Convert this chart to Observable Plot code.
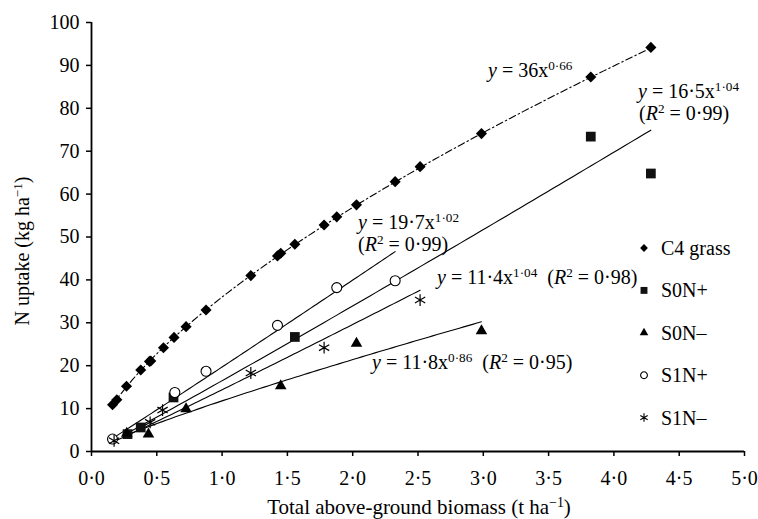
<!DOCTYPE html>
<html><head><meta charset="utf-8">
<script src="https://cdn.jsdelivr.net/npm/d3@7"></script>
<script src="https://cdn.jsdelivr.net/npm/@observablehq/plot@0.6"></script>
<style>body{margin:0;background:#fff}</style>
</head><body><div id="chart"></div>
<script>
// ---- data ----
const seriesNames = ["C4 grass", "S0N+", "S0N–", "S1N+", "S1N–"];

const grassX = [0.161, 0.194, 0.268, 0.377, 0.444, 0.454, 0.551, 0.632, 0.724, 0.877, 1.22, 1.424, 1.449, 1.557, 1.781, 1.878, 2.029, 2.325, 2.516, 2.986, 3.823, 4.283];
const grassY = [10.9, 12.05, 15.2, 19.0, 21.0, 21.1, 24.2, 26.6, 29.1, 33.0, 41.0, 45.6, 46.2, 48.3, 52.8, 54.7, 57.5, 62.9, 66.4, 74.1, 87.3, 94.2];

const s0nPlusX = [0.276, 0.377, 0.628, 1.557, 3.823, 4.283];
const s0nPlusY = [4.05, 5.6, 12.6, 26.7, 73.4, 64.8];

const s0nMinusX = [0.27, 0.436, 0.724, 1.449, 2.029, 2.986];
const s0nMinusY = [4.2, 4.05, 9.9, 15.3, 25.2, 28.1];

const s1nPlusX = [0.161, 0.638, 0.877, 1.424, 1.878, 2.325];
const s1nPlusY = [2.9, 13.75, 18.7, 29.4, 38.2, 39.8];

const s1nMinusX = [0.173, 0.449, 0.544, 1.22, 1.781, 2.516];
const s1nMinusY = [2.5, 6.8, 9.65, 18.3, 24.2, 35.3];

// fitted power curves y = a·x^b as drawn (order follows seriesNames)
const fitA = [36, 16.5, 11.8, 19.7, 14.4];
const fitB = [0.66, 1.04, 0.86, 1.02, 1.04];

const xTicks = [0, 0.5, 1, 1.5, 2, 2.5, 3, 3.5, 4, 4.5, 5];
const yTicks = [0, 10, 20, 30, 40, 50, 60, 70, 80, 90, 100];

// ---- build tables ----
const xs = [grassX, s0nPlusX, s0nMinusX, s1nPlusX, s1nMinusX];
const ys = [grassY, s0nPlusY, s0nMinusY, s1nPlusY, s1nMinusY];
const pts = xs.map((X, i) => X.map((x, j) => ({x, y: ys[i][j], s: i})));

const curves = [];
xs.forEach((X, i) => {
  const [x0, x1] = d3.extent(X);
  const n = 80;
  for (let k = 0; k <= n; k++) {
    const x = x0 + (x1 - x0) * k / n;
    curves.push({x, y: fitA[i] * Math.pow(x, fitB[i]), s: i});
  }
});

const FONT = "Liberation Serif, Times New Roman, serif";

const chart = Plot.plot({
  width: 758, height: 519,
  marginLeft: 91, marginRight: 14, marginTop: 22, marginBottom: 68,
  x: {domain: [0, 5]},
  y: {domain: [0, 100]},
  style: {fontFamily: FONT, fontSize: "20px", color: "#000", background: "#fff"},
  marks: [
    Plot.line(curves.filter(d => d.s === 0), {x: "x", y: "y", stroke: "#000", strokeWidth: 1.1, strokeDasharray: "7,3,1.5,3"}),
    Plot.line(curves.filter(d => d.s !== 0), {x: "x", y: "y", z: "s", stroke: "#000", strokeWidth: 1.1}),
    Plot.dot(pts[0], {x: "x", y: "y", symbol: "diamond2", fill: "#000", stroke: "none", r: 5}),
    Plot.dot(pts[1], {x: "x", y: "y", symbol: "square", fill: "#111", r: 5.5}),
    Plot.dot(pts[2], {x: "x", y: "y", symbol: "triangle", fill: "#000", r: 4.3}),
    Plot.dot(pts[3], {x: "x", y: "y", symbol: "circle", fill: "#fff", stroke: "#000", strokeWidth: 1.1, r: 5}),
    Plot.dot(pts[4], {x: "x", y: "y", symbol: "asterisk", stroke: "#000", strokeWidth: 1.2, r: 5.6}),
    Plot.axisX({ticks: xTicks, tickFormat: d => d.toFixed(1).replace(".", "·"), tickSize: 5, tickPadding: 14, label: null, strokeWidth: 1.5}),
    Plot.axisY({ticks: yTicks, tickSize: 5, tickPadding: 7, label: null, strokeWidth: 1.5}),
    Plot.ruleY([0], {strokeWidth: 1.8}),
    Plot.ruleX([0], {strokeWidth: 1.8})
  ]
});
document.getElementById("chart").appendChild(chart);

const svg = d3.select(chart);

function richText(g, x, y, parts, size, anchor = "start") {
  const t = g.append("text").attr("x", x).attr("y", y)
    .attr("text-anchor", anchor)
    .attr("font-family", FONT).attr("font-size", size).attr("fill", "#000")
    .style("white-space", "pre");
  let raised = false;
  parts.forEach(([s, st]) => {
    const ts = t.append("tspan").text(s);
    if (st === "i") ts.attr("font-style", "italic");
    if (st === "s") {
      ts.attr("font-size", size * 0.66).attr("dy", raised ? 0 : -7);
      raised = true;
    } else if (raised) {
      ts.attr("dy", 7);
      raised = false;
    }
  });
  return t;
}

// equation annotations (pixel layout)
const eqs = [
  {x: 488, y: 77, p: [["y","i"],[" = 36x",""],["0·66","s"]]},
  {x: 638, y: 98, p: [["y","i"],[" = 16·5x",""],["1·04","s"]]},
  {x: 639, y: 120, p: [["(",""],["R","i"],["2","s"],[" = 0·99)",""]]},
  {x: 358, y: 229, p: [["y","i"],[" = 19·7x",""],["1·02","s"]]},
  {x: 358, y: 250.5, p: [["(",""],["R","i"],["2","s"],[" = 0·99)",""]]},
  {x: 437, y: 284, p: [["y","i"],[" = 11·4x",""],["1·04","s"],["  (",""],["R","i"],["2","s"],[" = 0·98)",""]]},
  {x: 372, y: 369, p: [["y","i"],[" = 11·8x",""],["0·86","s"],["  (",""],["R","i"],["2","s"],[" = 0·95)",""]]}
];
const ga = svg.append("g");
eqs.forEach(e => richText(ga, e.x, e.y, e.p, 20));

// axis titles
richText(svg, 419, 514, [["Total above-ground biomass (t ha",""],["−1","s"],[")",""]], 21, "middle");
richText(svg.append("g").attr("transform", "translate(29,251) rotate(-90)"), 0, 0,
  [["N uptake (kg ha",""],["−1","s"],[")",""]], 20, "middle");

// legend
const legSym = [
  {t: d3.symbolDiamond2, fill: "#000", stroke: "none", r: 3.5},
  {t: d3.symbolSquare, fill: "#111", stroke: "none", r: 3.9},
  {t: d3.symbolTriangle, fill: "#000", stroke: "none", r: 3.2},
  {t: d3.symbolCircle, fill: "#fff", stroke: "#000", r: 3.4},
  {t: d3.symbolAsterisk, fill: "none", stroke: "#000", r: 4.0}
];
const gl = svg.append("g");
seriesNames.forEach((name, i) => {
  const cy = 248 + i * 42.4;
  const s = legSym[i];
  gl.append("path").attr("transform", `translate(644,${cy})`)
    .attr("d", d3.symbol(s.t, s.r * s.r * Math.PI)())
    .attr("fill", s.fill).attr("stroke", s.stroke).attr("stroke-width", 1.1);
  gl.append("text").attr("x", 661).attr("y", cy + 7).attr("text-anchor", "start")
    .attr("font-family", FONT).attr("font-size", 20).attr("fill", "#000").text(name);
});
</script>
</body></html>
